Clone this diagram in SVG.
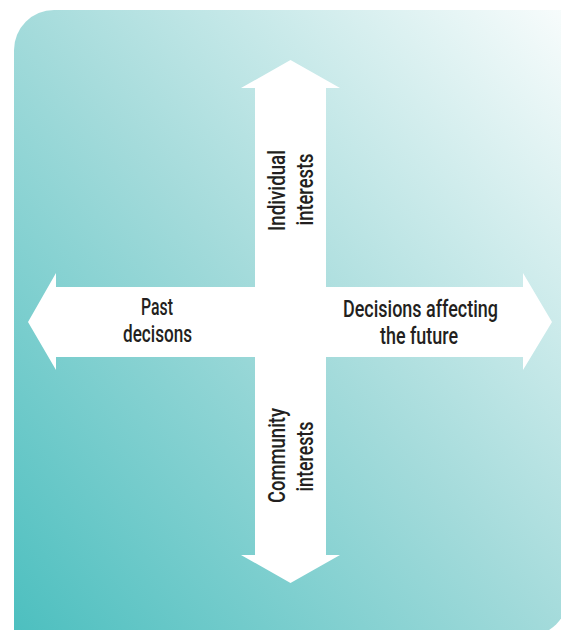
<svg xmlns="http://www.w3.org/2000/svg" width="561" height="630" viewBox="0 0 561 630">
  <defs>
    <linearGradient id="bg" x1="0" y1="1" x2="1" y2="0">
      <stop offset="0" stop-color="#4cbfbf"/>
      <stop offset="0.5" stop-color="#a4dbdb"/>
      <stop offset="1" stop-color="#f8fcfc"/>
    </linearGradient>
  </defs>
  <style>
    .lbl { font-family: Roboto, "DejaVu Sans", "Liberation Sans", sans-serif; font-weight: 500; font-size: 24px; fill: #231f20; text-anchor: middle; }
    .sm { font-size: 23px; }
    .arrow { fill: #ffffff; stroke: none; }
  </style>
  <rect width="561" height="630" fill="#ffffff"/>
  <path d="M14,50 A40,40 0 0 1 54,10 L568,10 L568,596 A40,40 0 0 1 528,636 L14,636 Z" fill="url(#bg)"/>
  <g id="connectors">
    <path class="arrow" d="M290.5,60 L340,88 L326,88 L326,287 L523,287 L523,273 L552,322 L523,370 L523,357 L326,357 L326,555 L340,555 L290.5,583 L241,555 L255,555 L255,357 L56,357 L56,370 L28,322 L56,273 L56,287 L255,287 L255,88 L241,88 Z"/>
  </g>
  <g id="individual-interests">
    <text class="lbl" transform="translate(285,190.5) rotate(-90)" textLength="81" lengthAdjust="spacingAndGlyphs">Individual</text>
    <text class="lbl" transform="translate(313,189.5) rotate(-90)" textLength="72" lengthAdjust="spacingAndGlyphs">interests</text>
  </g>
  <g id="community-interests">
    <text class="lbl" transform="translate(285,455.5) rotate(-90)" textLength="95" lengthAdjust="spacingAndGlyphs">Community</text>
    <text class="lbl" transform="translate(313,456.5) rotate(-90)" textLength="70" lengthAdjust="spacingAndGlyphs">interests</text>
  </g>
  <g id="past-decisions">
    <text class="lbl" x="157" y="315" textLength="32" lengthAdjust="spacingAndGlyphs">Past</text>
    <text class="lbl" x="157.5" y="342" textLength="69" lengthAdjust="spacingAndGlyphs">decisons</text>
  </g>
  <g id="future-decisions">
    <text class="lbl sm" x="420.5" y="317" textLength="155" lengthAdjust="spacingAndGlyphs">Decisions affecting</text>
    <text class="lbl sm" x="419" y="344" textLength="78" lengthAdjust="spacingAndGlyphs">the future</text>
  </g>
</svg>
